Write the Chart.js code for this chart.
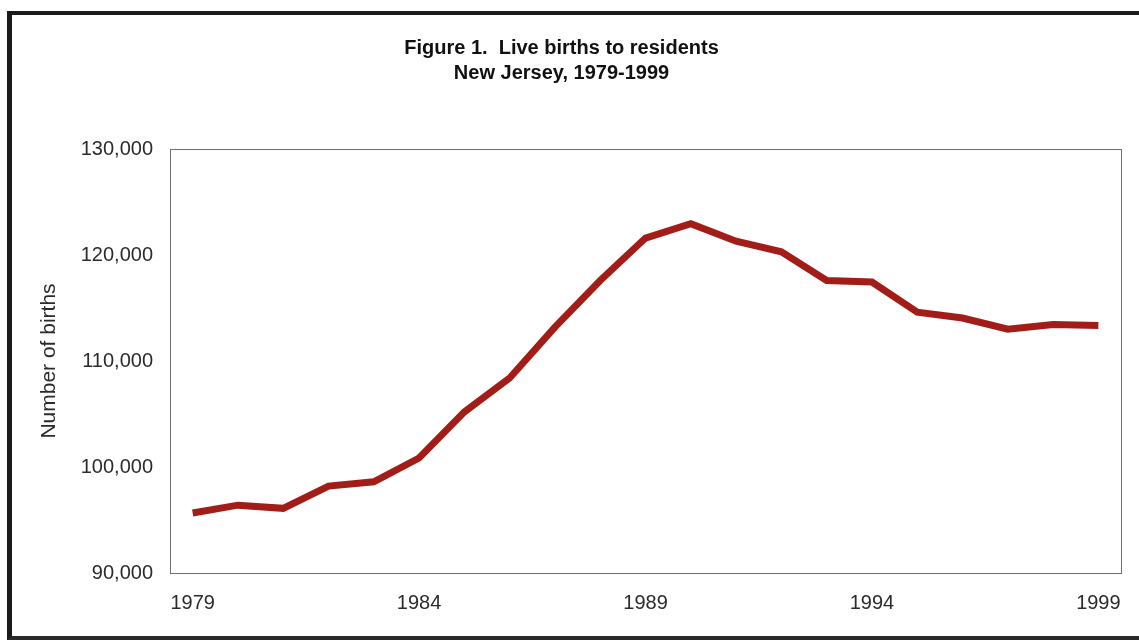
<!DOCTYPE html>
<html>
<head>
<meta charset="utf-8">
<title>Live births to residents, New Jersey 1979-1999</title>
<script src="https://cdn.jsdelivr.net/npm/chart.js@4.4.1/dist/chart.umd.min.js"></script>
<style>
    html, body { margin: 0; padding: 0; background: #ffffff; }
    #frame {
        position: absolute;
        left: 7px;
        top: 11px;
        width: 1200px;
        height: 621px;
        border-top: 4px solid #1a1a1a;
        border-left: 5px solid #1a1a1a;
        border-bottom: 4px solid #2a2a2a;
    }
    #wrap { position: absolute; left: 0; top: 0; width: 1139px; height: 643px; }
</style>
</head>
<body>
<div id="frame"></div>
<div id="wrap"><canvas id="birthsChart" width="1139" height="643"></canvas></div>
<script>
/*** Data ***/
const years = ['1979', '1980', '1981', '1982', '1983', '1984', '1985', '1986', '1987', '1988',
    '1989', '1990', '1991', '1992', '1993', '1994', '1995', '1996', '1997', '1998', '1999'];
const births = [95660, 96400, 96100, 98200, 98600, 100850, 105200, 108400, 113200, 117600,
    121600, 122950, 121300, 120300, 117600, 117450, 114600, 114050, 113000, 113450, 113350];
const titleLines = ['Figure 1.  Live births to residents', 'New Jersey, 1979-1999'];
const yTitle = 'Number of births';

/*** Style ***/
const lineColor = 'rgb(163, 29, 24)';
const frameColor = '#6e6e6e';
const textColor = '#2b2b2b';
Chart.defaults.font.family = '"Liberation Sans", Arial, Helvetica, sans-serif';

/*** Frame around the plot area ***/
const plotFrame = {
    id: 'plotFrame',
    afterDraw: function (chart) {
        const area = chart.chartArea;
        const ctx = chart.ctx;
        ctx.save();
        ctx.strokeStyle = frameColor;
        ctx.lineWidth = 1;
        ctx.strokeRect(area.left + 0.5, area.top + 0.5, area.right - area.left, area.bottom - area.top);
        ctx.restore();
    }
};

/*** Chart ***/
const birthsChart = new Chart(document.getElementById('birthsChart'), {
    type: 'line',
    data: {
        labels: years,
        datasets: [
            {
                label: 'Live births',
                data: births,
                borderColor: lineColor,
                backgroundColor: lineColor,
                borderWidth: 7,
                pointRadius: 0,
                tension: 0,
                fill: false
            }
        ]
    },
    options: {
        responsive: false,
        animation: false,
        layout: {
            padding: { left: 0, right: 16, top: 0, bottom: 0 }
        },
        plugins: {
            legend: { display: false },
            tooltip: { enabled: false },
            title: {
                display: true,
                text: titleLines,
                color: '#111111',
                font: { size: 20, weight: 'bold', lineHeight: 1.25 },
                padding: { top: 36, bottom: 63 }
            }
        },
        scales: {
            x: {
                type: 'category',
                offset: true,
                grid: { display: false, drawTicks: false },
                border: { display: true, color: frameColor, width: 1 },
                ticks: {
                    autoSkip: false,
                    maxRotation: 0,
                    padding: 18,
                    color: textColor,
                    font: { size: 20 },
                    callback: function (value, index) {
                        return index % 5 === 0 ? years[index] : '';
                    }
                },
                afterFit: function (scale) {
                    scale.height = 70;
                }
            },
            y: {
                min: 90000,
                max: 130000,
                grid: { display: false, drawTicks: false },
                border: { display: true, color: frameColor, width: 1 },
                ticks: {
                    stepSize: 10000,
                    padding: 17,
                    color: textColor,
                    font: { size: 20 },
                    callback: function (value) {
                        return value.toLocaleString('en-US');
                    }
                },
                title: {
                    display: true,
                    text: yTitle,
                    color: textColor,
                    font: { size: 21 },
                    padding: { top: 37, bottom: 0 }
                },
                afterFit: function (scale) {
                    scale.width = 170;
                }
            }
        }
    },
    plugins: [plotFrame]
});
</script>
</body>
</html>
